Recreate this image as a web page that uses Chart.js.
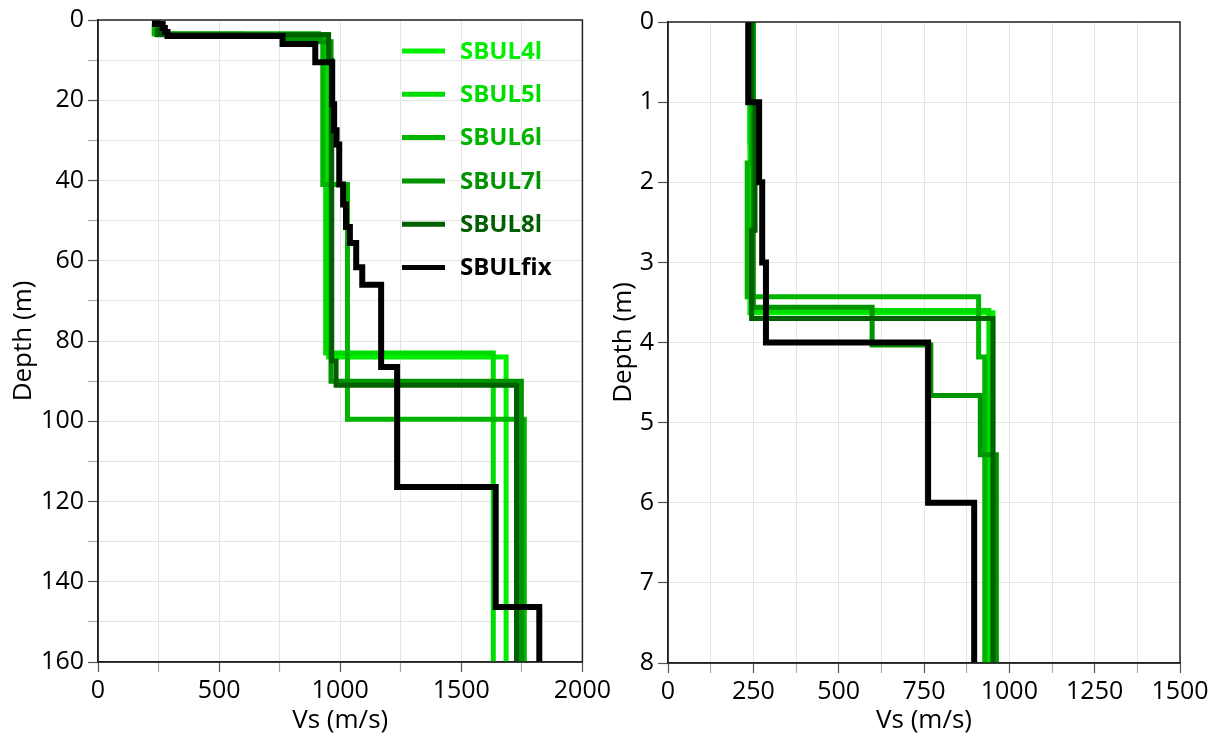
<!DOCTYPE html>
<html>
<head>
<meta charset="utf-8">
<script src="https://cdn.jsdelivr.net/npm/chart.js@4.4.1/dist/chart.umd.min.js"></script>
<style>
  html, body { margin: 0; padding: 0; background: #fff; }
  #wrap { position: relative; width: 1222px; height: 748px; overflow: hidden; }
  #left { position: absolute; left: 0; top: 0; }
  #right { position: absolute; left: 605px; top: 0; }
</style>
</head>
<body>
<div id="wrap">
  <canvas id="left" width="615" height="748"></canvas>
  <canvas id="right" width="617" height="748"></canvas>
</div>
<script>
// Shear-wave velocity profiles: layer top depths (m) and Vs (m/s) per layer
const seriesNames  = ['SBUL4l', 'SBUL5l', 'SBUL6l', 'SBUL7l', 'SBUL8l', 'SBULfix'];
const seriesColors = ['#00f000', '#00dc00', '#00b400', '#009400', '#005f00', '#000000'];
const seriesWidths = [5, 5, 5, 5, 5, 6];

const sbul4lTop = [0, 1.0, 3.63, 84];
const sbul4lVs  = [250, 240, 952, 1685];

const sbul5lTop = [0, 1.5, 3.6, 83];
const sbul5lVs  = [240, 245, 940, 1632];

const sbul6lTop = [0, 1.76, 3.43, 4.18, 41, 99.5];
const sbul6lVs  = [245, 232, 910, 928, 1030, 1760];

const sbul7lTop = [0, 3.56, 4.03, 4.66, 5.4, 90];
const sbul7lVs  = [250, 598, 770, 915, 962, 1748];

const sbul8lTop = [0, 1.0, 2.6, 3.7, 10, 85, 91];
const sbul8lVs  = [245, 255, 245, 952, 965, 983, 1728];

const sbulFixTop = [0, 1, 2, 3, 4, 6, 10.5, 21, 27.5, 31, 41, 46, 51.6, 55.6, 61.6, 66, 86.5, 116.4, 146.3];
const sbulFixVs  = [235, 267, 276, 287, 762, 897, 967, 975, 985, 996, 1012, 1024, 1040, 1066, 1091, 1169, 1235, 1642, 1822];

const profileTops = [sbul4lTop, sbul5lTop, sbul6lTop, sbul7lTop, sbul8lTop, sbulFixTop];
const profileVs   = [sbul4lVs, sbul5lVs, sbul6lVs, sbul7lVs, sbul8lVs, sbulFixVs];

// Half-space is drawn down to this depth
const profileBottom = 160;

// Axis ranges and tick spacing
const leftVsRange = [0, 2000], leftVsStep = 250, leftVsLabelEvery = 500;
const leftDepthRange = [0, 160], leftDepthStep = 10, leftDepthLabelEvery = 20;
const rightVsRange = [0, 1500], rightVsStep = 125, rightVsLabelEvery = 250;
const rightDepthRange = [0, 8], rightDepthStep = 1, rightDepthLabelEvery = 1;

// Turn layered model into step-line points
function stepPoints(tops, vs) {
  const pts = [];
  for (let i = 0; i < tops.length; i++) {
    const bottom = i + 1 < tops.length ? tops[i + 1] : profileBottom;
    pts.push({ x: vs[i], y: tops[i] });
    pts.push({ x: vs[i], y: bottom });
  }
  return pts;
}

function makeDatasets() {
  return seriesNames.map((name, i) => ({
    label: name,
    data: stepPoints(profileTops[i], profileVs[i]),
    borderColor: seriesColors[i],
    backgroundColor: seriesColors[i],
    borderWidth: seriesWidths[i],
    borderJoinStyle: 'miter',
    borderCapStyle: 'butt',
    showLine: true,
    pointRadius: 0,
    pointHoverRadius: 0,
    tension: 0,
    fill: false,
    clip: 0,
    order: seriesNames.length - 1 - i
  }));
}

const FONT = 'Open Sans';

// Box around the plotting area
const framePlugin = {
  id: 'frame',
  afterDraw(chart) {
    const { ctx, chartArea: a } = chart;
    ctx.save();
    ctx.strokeStyle = '#222';
    ctx.lineWidth = 1.5;
    ctx.strokeRect(a.left, a.top, a.right - a.left, a.bottom - a.top);
    ctx.restore();
  }
};

// Vertical legend placed inside the plot
const profileLegend = {
  id: 'profileLegend',
  afterDatasetsDraw(chart, args, opts) {
    if (!opts || !opts.show) return;
    const ctx = chart.ctx;
    ctx.save();
    ctx.font = 'bold 24px "' + FONT + '"';
    ctx.textBaseline = 'middle';
    ctx.textAlign = 'left';
    chart.data.datasets.forEach((ds, i) => {
      const y = opts.y + i * opts.rowGap;
      ctx.strokeStyle = ds.borderColor;
      ctx.lineWidth = 5;
      ctx.beginPath();
      ctx.moveTo(opts.x, y);
      ctx.lineTo(opts.x + opts.lineLen, y);
      ctx.stroke();
      ctx.fillStyle = ds.borderColor;
      ctx.fillText(ds.label, opts.x + opts.textGap, y + 1);
    });
    ctx.restore();
  }
};

function axis(range, step, labelEvery, opts) {
  return {
    type: 'linear',
    min: range[0],
    max: range[1],
    reverse: !!opts.reverse,
    ticks: {
      stepSize: step,
      autoSkip: false,
      maxRotation: 0,
      padding: 4,
      color: '#000',
      font: { family: FONT, size: 25 },
      callback: (v) => (Math.abs(v / labelEvery - Math.round(v / labelEvery)) < 1e-6 ? String(v) : '')
    },
    grid: {
      color: '#e4e4e4',
      lineWidth: 1,
      tickLength: 10,
      tickWidth: 1.2,
      tickColor: (c) => {
        const v = c.tick ? c.tick.value : 0;
        return Math.abs(v / labelEvery - Math.round(v / labelEvery)) < 1e-6 ? '#555' : '#aaa';
      }
    },
    border: { color: '#222', width: 1.5 },
    title: {
      display: true,
      text: opts.title,
      color: '#000',
      font: { family: FONT, size: 26 },
      padding: opts.titlePad
    },
    afterFit: opts.fit
  };
}

function makeChart(id, cfg) {
  return new Chart(document.getElementById(id), {
    type: 'scatter',
    data: { datasets: makeDatasets() },
    options: {
      responsive: false,
      animation: false,
      devicePixelRatio: 1,
      layout: { padding: cfg.padding },
      plugins: {
        legend: { display: false },
        tooltip: { enabled: false },
        profileLegend: cfg.legend
      },
      scales: {
        x: axis(cfg.xRange, cfg.xStep, cfg.xLabelEvery, {
          title: 'Vs (m/s)',
          titlePad: { top: 0, bottom: 12 },
          fit: (s) => { s.height = cfg.xHeight; }
        }),
        y: axis(cfg.yRange, cfg.yStep, cfg.yLabelEvery, {
          reverse: true,
          title: 'Depth (m)',
          titlePad: { top: cfg.yTitlePad, bottom: 0 },
          fit: (s) => { s.width = cfg.yWidth; }
        })
      }
    },
    plugins: [profileLegend, framePlugin]
  });
}

makeChart('left', {
  padding: { top: 20, right: 31, left: 0, bottom: 0 },
  xRange: leftVsRange, xStep: leftVsStep, xLabelEvery: leftVsLabelEvery,
  yRange: leftDepthRange, yStep: leftDepthStep, yLabelEvery: leftDepthLabelEvery,
  xHeight: 86, yWidth: 98, yTitlePad: 8,
  legend: { show: true, x: 402, y: 51, rowGap: 43.3, lineLen: 43, textGap: 58 }
});

makeChart('right', {
  padding: { top: 22, right: 42, left: 0, bottom: 0 },
  xRange: rightVsRange, xStep: rightVsStep, xLabelEvery: rightVsLabelEvery,
  yRange: rightDepthRange, yStep: rightDepthStep, yLabelEvery: rightDepthLabelEvery,
  xHeight: 85, yWidth: 63, yTitlePad: 3,
  legend: { show: false }
});
</script>
</body>
</html>
